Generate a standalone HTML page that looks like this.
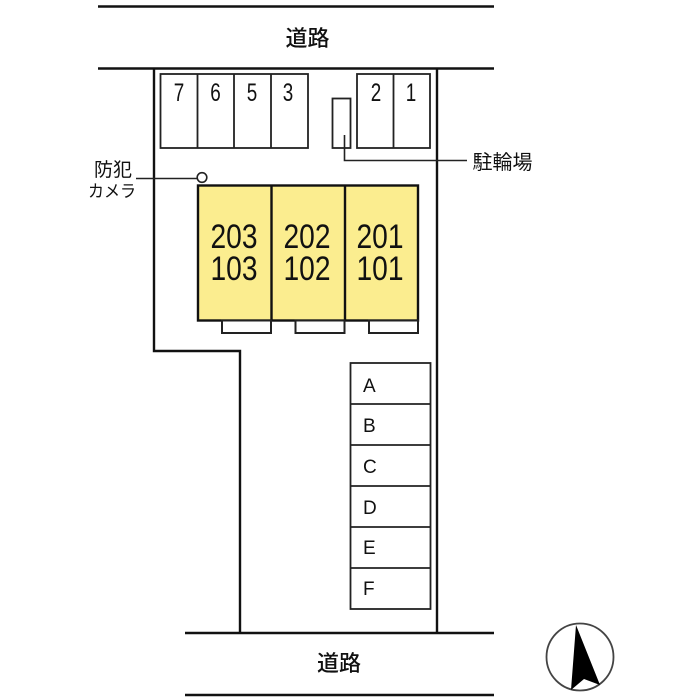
<!DOCTYPE html>
<html><head><meta charset="utf-8"><style>
html,body{margin:0;padding:0;background:#fff}
svg{display:block;filter:blur(0.35px)}
text{font-family:"Liberation Sans","Noto Sans CJK JP",sans-serif;fill:#111}
</style></head><body>
<svg width="700" height="700" viewBox="0 0 700 700" xmlns="http://www.w3.org/2000/svg">
<rect width="700" height="700" fill="#fff"/>
<g stroke="#111" fill="none" stroke-width="2.4">
<path d="M98 6.500H494M98 68.500H494M185 633H494M185 695H494"/>
<path d="M154 68.500V351H240V633M437 68.500V633"/>
</g>
<g stroke="#222" fill="none" stroke-width="1.800">
<rect x="160.500" y="74" width="147.500" height="74"/>
<path d="M197.500 74V148M234 74V148M271 74V148"/>
<rect x="357" y="74" width="73" height="74"/>
<path d="M393.500 74V148"/>
<rect x="332.500" y="98.500" width="18" height="49.500"/>
<path d="M344.500 135V160.500H467" stroke-width="1.600"/>
<path d="M136 178.500H197" stroke-width="1.600"/>
<circle cx="202" cy="177.500" r="4.800" stroke-width="1.600"/>
<rect x="350.500" y="363" width="80" height="246"/>
<path d="M350.500 404H430.500M350.500 445H430.500M350.500 486H430.500M350.500 527H430.500M350.500 568H430.500"/>
</g>
<rect x="198" y="185.500" width="220" height="135" fill="#fbed8f" stroke="#111" stroke-width="2.400"/>
<path d="M271.500 185.500V320.500M345 185.500V320.500" stroke="#111" stroke-width="2.400" fill="none"/>
<g fill="#fff" stroke="#222" stroke-width="2">
<rect x="222" y="320.500" width="49" height="12.500"/>
<rect x="295.500" y="320.500" width="49" height="12.500"/>
<rect x="369" y="320.500" width="49" height="12.500"/>
</g>
<g font-size="25" text-anchor="middle">
<text x="179" y="101" textLength="10.500" lengthAdjust="spacingAndGlyphs">7</text>
<text x="215.500" y="101" textLength="10.500" lengthAdjust="spacingAndGlyphs">6</text>
<text x="252" y="101" textLength="10.500" lengthAdjust="spacingAndGlyphs">5</text>
<text x="288" y="101" textLength="10.500" lengthAdjust="spacingAndGlyphs">3</text>
<text x="376" y="101" textLength="10.500" lengthAdjust="spacingAndGlyphs">2</text>
<text x="411" y="101" textLength="10.500" lengthAdjust="spacingAndGlyphs">1</text>
</g>
<g text-anchor="middle">
<text x="307.500" y="46" font-size="22" font-weight="500">道路</text>
<text x="339" y="671" font-size="22" font-weight="500">道路</text>
<text x="502.500" y="169" font-size="20">駐輪場</text>
<text x="113" y="176" font-size="19">防犯</text>
<text x="112" y="197" font-size="17" textLength="48" lengthAdjust="spacingAndGlyphs">カメラ</text>
</g>
<g font-size="34" text-anchor="middle">
<text x="234" y="248" textLength="47" lengthAdjust="spacingAndGlyphs">203</text>
<text x="234" y="280" textLength="47" lengthAdjust="spacingAndGlyphs">103</text>
<text x="307" y="248" textLength="47" lengthAdjust="spacingAndGlyphs">202</text>
<text x="307" y="280" textLength="47" lengthAdjust="spacingAndGlyphs">102</text>
<text x="380" y="248" textLength="47" lengthAdjust="spacingAndGlyphs">201</text>
<text x="380" y="280" textLength="47" lengthAdjust="spacingAndGlyphs">101</text>
</g>
<g font-size="19">
<text x="363" y="392">A</text><text x="363" y="432">B</text><text x="363" y="473">C</text>
<text x="363" y="514">D</text><text x="363" y="554">E</text><text x="363" y="595">F</text>
</g>
<circle cx="580" cy="657" r="33.500" fill="none" stroke="#444" stroke-width="1.800"/>
<path d="M576 625L600 685L584 679L571 690Z" fill="#000"/>
</svg>
</body></html>
